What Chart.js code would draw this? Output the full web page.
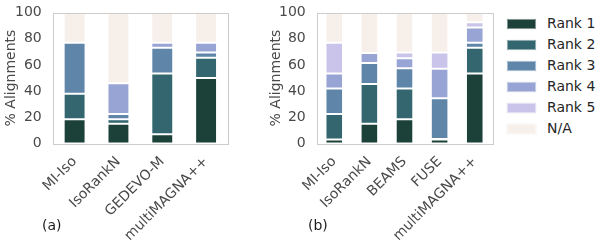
<!DOCTYPE html>
<html>
<head>
<meta charset="utf-8">
<script src="https://cdn.jsdelivr.net/npm/chart.js@4/dist/chart.umd.min.js"></script>
<style>
  html, body { margin: 0; padding: 0; background: #fff; }
  body { width: 606px; height: 243px; position: relative; overflow: hidden; font-family: "DejaVu Sans", sans-serif; }
  .cv { position: absolute; top: 0; }
  .lbl { position: absolute; font-size: 14px; color: #1a1a1a; }
  .leg { position: absolute; left: 507px; font-size: 14px; color: #262626; }
  .sw { position: absolute; left: 0; width: 27px; height: 8px; border: 1px solid rgba(255,255,255,0.45); box-shadow: 0 0 0 0.5px rgba(0,0,0,0.05); }
  .lt { position: absolute; left: 40px; top: -4px; white-space: nowrap; line-height: 16px; }
</style>
</head>
<body>
<canvas id="ca" class="cv" style="left:0px"></canvas>
<canvas id="cb" class="cv" style="left:250px"></canvas>
<div class="lbl" style="left:42px; top:217px;">(a)</div>
<div class="lbl" style="left:308px; top:217px;">(b)</div>
<div id="legend"></div>
<script>
// ---- data ----
const seriesNames = ['Rank 1', 'Rank 2', 'Rank 3', 'Rank 4', 'Rank 5', 'N/A'];
const seriesColors = ['#1b4139', '#33666f', '#5f86a9', '#97a4d4', '#cbc4ea', '#f7f0ea'];
const yTicks = [0, 20, 40, 60, 80, 100];

const categoriesA = ['MI-Iso', 'IsoRankN', 'GEDEVO-M', 'multiMAGNA++'];
const rank1A = [18.5, 15, 7, 50];
const rank2A = [19.5, 3.5, 46.5, 15.5];
const rank3A = [39, 4, 19.5, 4];
const rank4A = [0, 23.5, 4, 7.5];
const rank5A = [0, 0, 0, 0];
const naA = [23, 54, 23, 23];

const categoriesB = ['MI-Iso', 'IsoRankN', 'BEAMS', 'FUSE', 'multiMAGNA++'];
const rank1B = [3, 15, 18.5, 3, 53.5];
const rank2B = [19.5, 30.5, 23.5, 0.5, 19.5];
const rank3B = [19.5, 16, 15.5, 31, 4];
const rank4B = [11.5, 7.5, 7.5, 22.5, 11.5];
const rank5B = [23.5, 0, 4.5, 12.5, 4];
const naB = [23, 31, 30.5, 30.5, 7.5];

const FONT = { family: '"DejaVu Sans", sans-serif', size: 14 };
const TEXT = '#4a4a4a';
const FRAME = '#cccccc';

const framePlugin = {
  id: 'frame',
  afterDraw(chart) {
    const a = chart.chartArea, ctx = chart.ctx;
    ctx.save();
    ctx.strokeStyle = FRAME;
    ctx.lineWidth = 1;
    ctx.strokeRect(Math.round(a.left) + 0.5, Math.round(a.top) + 0.5, Math.round(a.right - a.left), Math.round(a.bottom - a.top));
    ctx.restore();
  }
};

function makeChart(id, w, cats, series, yWidth, rightPad, titlePad) {
  const cv = document.getElementById(id);
  cv.width = w; cv.height = 243;
  cv.style.width = w + 'px'; cv.style.height = '243px';
  return new Chart(cv, {
    type: 'bar',
    data: {
      labels: cats,
      datasets: series.map((d, i) => ({
        label: seriesNames[i],
        data: d,
        backgroundColor: seriesColors[i],
        borderColor: 'rgba(255,255,255,0.4)',
        borderWidth: 1,
        borderSkipped: false,
        categoryPercentage: 1.0,
        barPercentage: 0.5
      }))
    },
    options: {
      responsive: false,
      animation: false,
      devicePixelRatio: 1,
      layout: { padding: { left: 0, right: rightPad, top: 12.5, bottom: 0 } },
      plugins: { legend: { display: false }, tooltip: { enabled: false } },
      scales: {
        x: {
          stacked: true,
          grid: { display: false },
          border: { display: false },
          ticks: { font: FONT, color: TEXT, minRotation: 45, maxRotation: 45, padding: 2, autoSkip: false },
          afterFit(s) { s.height = 243 - 143.5 - 0; }
        },
        y: {
          stacked: true,
          min: 0, max: 100,
          grid: { display: false },
          border: { display: false },
          afterBuildTicks(s) { s.ticks = yTicks.map(v => ({ value: v })); },
          ticks: { font: FONT, color: TEXT, padding: 3 },
          title: { display: true, text: '% Alignments', font: FONT, color: TEXT, padding: { top: titlePad, bottom: 0 } },
          afterFit(s) { s.width = yWidth; }
        }
      }
    },
    plugins: [framePlugin]
  });
}

makeChart('ca', 240, categoriesA, [rank1A, rank2A, rank3A, rank4A, rank5A, naA], 52.7, 12, 2.6);
makeChart('cb', 250, categoriesB, [rank1B, rank2B, rank3B, rank4B, rank5B, naB], 66.7, 7.7, 17.6);

// legend
const leg = document.getElementById('legend');
seriesNames.forEach((n, i) => {
  const row = document.createElement('div');
  row.className = 'leg';
  row.style.top = (19 + i * 21) + 'px';
  row.innerHTML = '<div class="sw" style="background:' + seriesColors[i] + '"></div><div class="lt">' + n + '</div>';
  leg.appendChild(row);
});
</script>
</body>
</html>
